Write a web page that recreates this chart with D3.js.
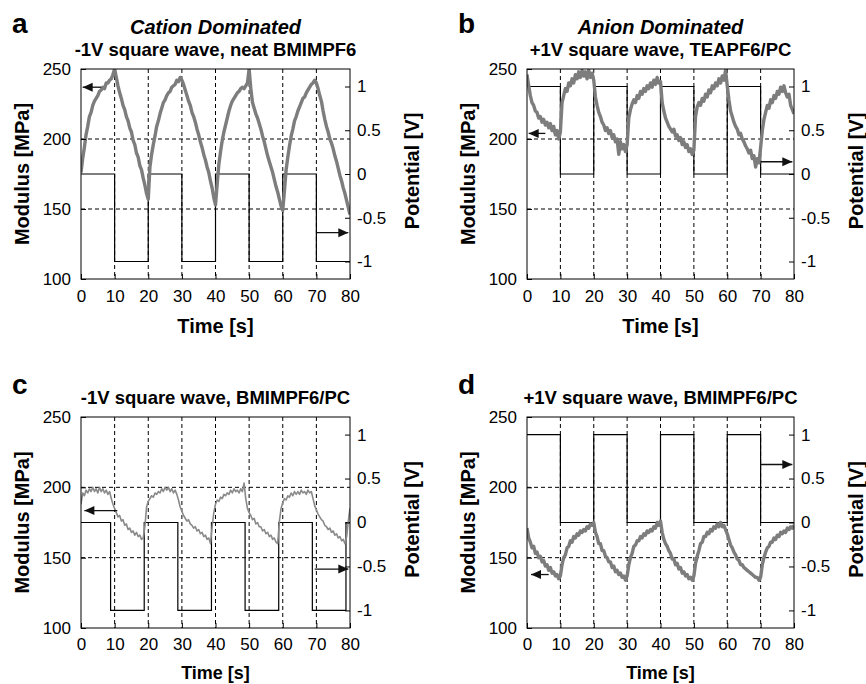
<!DOCTYPE html>
<html>
<head>
<meta charset="utf-8">
<script src="https://cdn.jsdelivr.net/npm/d3@7"></script>
<style>
  body { margin: 0; background: white; }
  svg text { font-family: "Liberation Sans", Arial, sans-serif; fill: black; }
</style>
</head>
<body>
<svg id="chart" width="866" height="684"></svg>
<script>
// sampling interval of the modulus traces [s]
const timeStep = 0.5;

// modulus traces [MPa], every 0.5 s from 0 to 80 s
const modulusA = [
  176, 186, 194, 203, 209, 216, 219, 224, 227, 229, 231, 234, 235, 237, 236, 240, 240, 242, 243, 246,
  250, 244, 238, 233, 229, 224, 221, 216, 213, 208, 205, 199, 196, 190, 187, 181, 178, 172, 167, 161,
  157, 180, 189, 196, 202, 209, 213, 218, 222, 226, 228, 231, 233, 234, 237, 238, 239, 242, 241, 244,
  242, 239, 235, 231, 227, 224, 219, 216, 212, 207, 203, 198, 194, 189, 185, 180, 176, 170, 165, 158,
  153, 168, 182, 191, 199, 205, 210, 215, 220, 224, 227, 229, 231, 233, 234, 236, 237, 236, 238, 240,
  250, 236, 226, 222, 218, 215, 211, 207, 202, 198, 193, 188, 184, 180, 176, 171, 166, 162, 157, 152,
  149, 163, 178, 187, 195, 202, 207, 213, 216, 220, 223, 226, 229, 230, 233, 235, 237, 239, 240, 242,
  240, 236, 231, 227, 220, 214, 209, 205, 200, 197, 193, 188, 184, 179, 174, 170, 165, 161, 156, 151,
  146
];
const modulusB = [
  246, 238, 231, 226, 224, 220, 219, 215, 216, 212, 214, 210, 212, 208, 211, 206, 209, 203, 206, 200,
  205, 226, 231, 236, 234, 240, 238, 243, 240, 246, 243, 248, 244, 249, 245, 248, 243, 249, 244, 247,
  242, 230, 224, 219, 216, 212, 210, 206, 208, 204, 206, 201, 203, 198, 200, 189, 198, 193, 196, 191,
  196, 215, 221, 225, 228, 226, 231, 229, 234, 232, 236, 234, 238, 236, 240, 237, 242, 239, 244, 240,
  241, 226, 220, 215, 212, 209, 207, 205, 207, 202, 203, 199, 201, 196, 198, 194, 196, 191, 193, 189,
  192, 216, 223, 226, 224, 229, 227, 232, 230, 235, 233, 238, 236, 240, 238, 243, 240, 245, 242, 249,
  238, 228, 220, 216, 212, 209, 207, 203, 204, 200, 198, 195, 193, 190, 192, 186, 188, 180, 186, 183,
  194, 206, 214, 219, 224, 222, 228, 226, 231, 229, 234, 232, 237, 234, 238, 233, 230, 232, 224, 221,
  218
];
const modulusC = [
  188, 196, 194, 198, 196, 199, 197, 200, 197, 199, 196, 200, 197, 199, 196, 198, 195, 197, 192, 188,
  185, 182, 179, 180, 176, 177, 173, 174, 170, 171, 168, 169, 166, 168, 165, 166, 163, 164, 172, 186,
  190, 192, 194, 193, 196, 195, 197, 196, 199, 197, 200, 198, 200, 197, 199, 196, 198, 195, 191, 186,
  183, 180, 178, 176, 177, 174, 173, 171, 172, 169, 170, 167, 168, 165, 166, 163, 164, 160, 172, 182,
  188, 191, 190, 193, 192, 195, 194, 196, 195, 198, 196, 199, 197, 198, 196, 199, 197, 203, 192, 185,
  182, 180, 177, 178, 174, 175, 172, 172, 169, 170, 167, 168, 165, 166, 163, 164, 161, 160, 176, 185,
  189, 192, 191, 194, 193, 196, 194, 197, 195, 197, 195, 198, 196, 197, 195, 198, 196, 197, 192, 187,
  184, 181, 179, 177, 176, 173, 172, 170, 171, 168, 169, 166, 167, 164, 165, 162, 163, 160, 165, 176,
  185
];
const modulusD = [
  171, 164, 161, 157, 158, 153, 154, 150, 151, 147, 148, 144, 145, 141, 143, 139, 140, 137, 138, 135,
  137, 145, 150, 152, 157, 158, 162, 161, 165, 164, 167, 166, 169, 168, 170, 169, 172, 171, 174, 173,
  175, 168, 165, 160, 160, 155, 155, 151, 150, 147, 147, 143, 144, 140, 141, 138, 139, 136, 137, 134,
  137, 145, 150, 153, 158, 159, 162, 162, 165, 164, 167, 166, 169, 168, 170, 169, 172, 171, 175, 173,
  176, 168, 163, 160, 158, 155, 153, 149, 149, 145, 146, 142, 143, 139, 140, 137, 138, 135, 136, 134,
  137, 146, 151, 155, 160, 161, 165, 165, 168, 167, 170, 169, 172, 171, 174, 172, 175, 172, 173, 170,
  167, 163, 159, 157, 154, 152, 149, 148, 145, 145, 143, 142, 141, 140, 139, 138, 137, 136, 136, 134,
  136, 145, 150, 154, 157, 158, 161, 161, 164, 163, 166, 165, 168, 167, 169, 168, 171, 170, 172, 171,
  173
];

// applied potential square waves [V]: switching times and the level held after each
const edgesRegular = [0, 10, 20, 30, 40, 50, 60, 70, 80];
const edgesEarly = [0, 8.8, 18.8, 28.8, 38.8, 48.8, 58.8, 68.8, 78.8, 80];
const levelsA = [0, -1, 0, -1, 0, -1, 0, -1, -1];
const levelsB = [1, 0, 1, 0, 1, 0, 1, 0, 0];
const levelsC = [0, -1, 0, -1, 0, -1, 0, -1, 0, 0];
const levelsD = [1, 0, 1, 0, 1, 0, 1, 0, 0];

// axis ticks
const timeTicks = [0, 10, 20, 30, 40, 50, 60, 70, 80];
const timeGrid = [10, 20, 30, 40, 50, 60, 70];
const modulusTicks = [100, 150, 200, 250];
const modulusGrid = [150, 200];
const potentialTicks = [-1, -0.5, 0, 0.5, 1];

// arrows: [t start, t end, value]
const arrowLeftA = [0.5, 6, 237];
const arrowRightA = [70, 79.5, -0.67];
const arrowLeftB = [0.5, 5.5, 204];
const arrowRightB = [70, 79.5, 0.14];
const arrowLeftC = [1, 10.8, 183.5];
const arrowRightC = [69.5, 79.5, -0.53];
const arrowLeftD = [1.2, 6.5, 138];
const arrowRightD = [70, 79.5, 0.66];

const panels = [
  { letter: "a", title: "Cation Dominated", subtitle: "-1V square wave, neat BMIMPF6",
    modulus: modulusA, edges: edgesRegular, levels: levelsA, arrowL: arrowLeftA, arrowR: arrowRightA,
    box: { left: 81, right: 350, top: 69, bottom: 279 }, lw: 3.4, grey: "#7d7d7d", timeSize: 20 },
  { letter: "b", title: "Anion Dominated", subtitle: "+1V square wave, TEAPF6/PC",
    modulus: modulusB, edges: edgesRegular, levels: levelsB, arrowL: arrowLeftB, arrowR: arrowRightB,
    box: { left: 527, right: 794, top: 69, bottom: 279 }, lw: 3.4, grey: "#7d7d7d", timeSize: 20 },
  { letter: "c", title: null, subtitle: "-1V square wave, BMIMPF6/PC",
    modulus: modulusC, edges: edgesEarly, levels: levelsC, arrowL: arrowLeftC, arrowR: arrowRightC,
    box: { left: 81, right: 350, top: 417, bottom: 628 }, lw: 1.6, grey: "#8a8a8a", timeSize: 18 },
  { letter: "d", title: null, subtitle: "+1V square wave, BMIMPF6/PC",
    modulus: modulusD, edges: edgesRegular, levels: levelsD, arrowL: arrowLeftD, arrowR: arrowRightD,
    box: { left: 527, right: 794, top: 417, bottom: 628 }, lw: 3.4, grey: "#7d7d7d", timeSize: 18 },
];

const svg = d3.select("#chart");

function drawArrow(g, x1, x2, y, pointRight) {
  g.append("line")
    .attr("x1", x1).attr("x2", x2).attr("y1", y).attr("y2", y)
    .attr("stroke", "#111").attr("stroke-width", 1.3);
  const tip = pointRight ? x2 : x1;
  const back = pointRight ? tip - 10 : tip + 10;
  g.append("path")
    .attr("d", `M${tip},${y} L${back},${y - 4.5} L${back},${y + 4.5} Z`)
    .attr("fill", "#111");
}

panels.forEach((p, idx) => {
  const b = p.box;
  const x = d3.scaleLinear().domain([0, 80]).range([b.left, b.right]);
  const yL = d3.scaleLinear().domain([100, 250]).range([b.bottom, b.top]);
  const yR = d3.scaleLinear().domain([-1.2, 1.2]).range([b.bottom, b.top]);
  const g = svg.append("g");

  const clipId = "clip" + idx;
  svg.append("clipPath").attr("id", clipId)
    .append("rect")
    .attr("x", b.left).attr("y", b.top)
    .attr("width", b.right - b.left).attr("height", b.bottom - b.top);

  // grid
  g.selectAll(".vgrid").data(timeGrid).enter().append("line")
    .attr("x1", d => x(d)).attr("x2", d => x(d))
    .attr("y1", b.top).attr("y2", b.bottom)
    .attr("stroke", "#000").attr("stroke-width", 1).attr("stroke-dasharray", "4,3");
  g.selectAll(".hgrid").data(modulusGrid).enter().append("line")
    .attr("x1", b.left).attr("x2", b.right)
    .attr("y1", d => yL(d)).attr("y2", d => yL(d))
    .attr("stroke", "#000").attr("stroke-width", 1).attr("stroke-dasharray", "4,3");

  // potential square wave
  const potData = p.edges.map((e, i) => [e, p.levels[i]]);
  g.append("path")
    .datum(potData)
    .attr("clip-path", `url(#${clipId})`)
    .attr("fill", "none")
    .attr("stroke", "#000")
    .attr("stroke-width", 1.2)
    .attr("d", d3.line().x(d => x(d[0])).y(d => yR(d[1])).curve(d3.curveStepAfter));

  // modulus trace
  g.append("path")
    .datum(p.modulus)
    .attr("clip-path", `url(#${clipId})`)
    .attr("fill", "none")
    .attr("stroke", p.grey)
    .attr("stroke-width", p.lw)
    .attr("stroke-linejoin", "round")
    .attr("d", d3.line().x((d, i) => x(i * timeStep)).y(d => yL(d)));

  // frame
  g.append("rect")
    .attr("x", b.left).attr("y", b.top)
    .attr("width", b.right - b.left).attr("height", b.bottom - b.top)
    .attr("fill", "none").attr("stroke", "#000").attr("stroke-width", 1);

  // axes
  const axL = g.append("g").attr("transform", `translate(${b.left},0)`)
    .call(d3.axisLeft(yL).tickValues(modulusTicks).tickSize(-5).tickPadding(10).tickFormat(d3.format("d")));
  const axR = g.append("g").attr("transform", `translate(${b.right},0)`)
    .call(d3.axisRight(yR).tickValues(potentialTicks).tickSize(-5).tickPadding(7).tickFormat(d => String(d)));
  const axB = g.append("g").attr("transform", `translate(0,${b.bottom})`)
    .call(d3.axisBottom(x).tickValues(timeTicks).tickSize(-5).tickPadding(idx < 2 ? 11 : 10).tickFormat(d3.format("d")));
  [axL, axR, axB].forEach(ax => {
    ax.select(".domain").remove();
    ax.selectAll("line").attr("stroke", "#000");
    ax.selectAll("text").attr("font-size", 17).attr("font-family", "Liberation Sans, Arial, sans-serif").attr("fill", "#000");
  });

  // arrows
  drawArrow(g, x(p.arrowL[0]), x(p.arrowL[1]), yL(p.arrowL[2]), false);
  drawArrow(g, x(p.arrowR[0]), x(p.arrowR[1]), yR(p.arrowR[2]), true);

  const cx = (b.left + b.right) / 2;
  const cy = (b.top + b.bottom) / 2;

  // titles
  if (p.title) {
    g.append("text").attr("x", cx).attr("y", b.top - 35)
      .attr("text-anchor", "middle").attr("font-size", 20)
      .attr("font-weight", "bold").attr("font-style", "italic")
      .text(p.title);
  }
  g.append("text").attr("x", cx).attr("y", b.top - 13)
    .attr("text-anchor", "middle").attr("font-size", 18.5).attr("font-weight", "bold")
    .text(p.subtitle);

  // panel letter
  g.append("text").attr("x", b.left - 69).attr("y", b.top - 36 + (idx < 2 ? 0 : 13))
    .attr("font-size", 28).attr("font-weight", "bold")
    .text(p.letter);

  // axis titles
  g.append("text").attr("x", cx).attr("y", b.bottom + (idx < 2 ? 54 : 51))
    .attr("text-anchor", "middle").attr("font-size", p.timeSize).attr("font-weight", "bold")
    .text("Time [s]");
  g.append("text")
    .attr("transform", `translate(${b.left - 52},${cy}) rotate(-90)`)
    .attr("text-anchor", "middle").attr("font-size", 20).attr("font-weight", "bold")
    .text("Modulus [MPa]");
  g.append("text")
    .attr("transform", `translate(${b.right + 69},${cy - 3}) rotate(-90)`)
    .attr("text-anchor", "middle").attr("font-size", 20).attr("font-weight", "bold")
    .text("Potential [V]");
});
</script>
</body>
</html>
